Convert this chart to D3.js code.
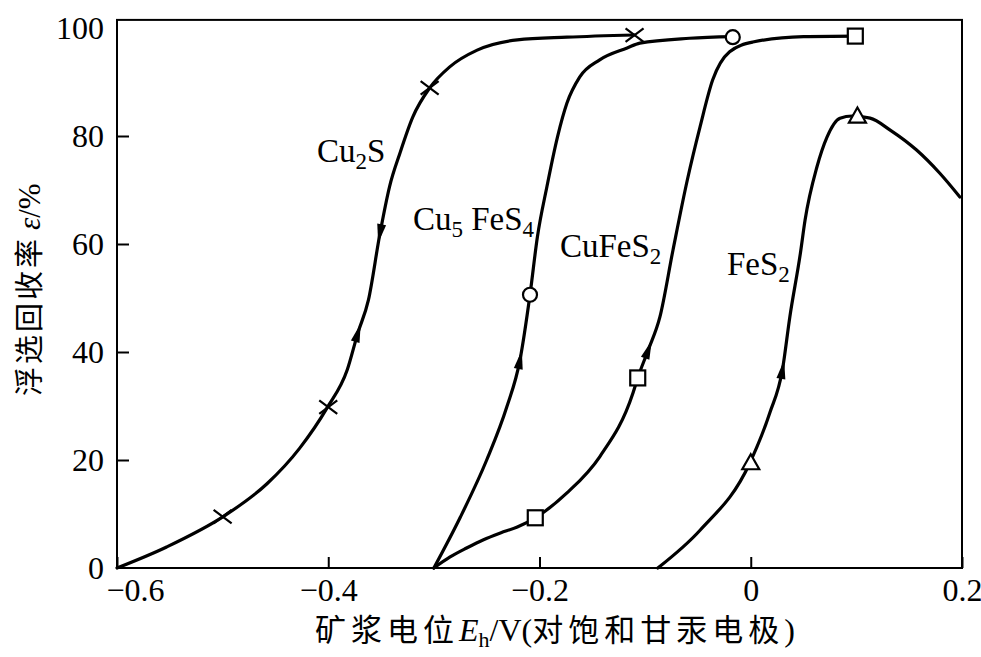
<!DOCTYPE html>
<html><head><meta charset="utf-8">
<script src="https://cdn.jsdelivr.net/npm/d3@7"></script>
<style>body{margin:0;background:#fff}</style>
</head><body>
<svg id="c" width="981" height="657"></svg>
<script>
// ---- data ----
const xTicks = [-0.6, -0.4, -0.2, 0, 0.2];
const xTickLabels = ["−0.6", "−0.4", "−0.2", "0", "0.2"];
const yTicks = [0, 20, 40, 60, 80, 100];
const yTickLabels = ["0", "20", "40", "60", "80", "100"];

const cu2sCurve = [[-0.6,0],[-0.553,3.9],[-0.498,9.7],[-0.458,15.6],[-0.427,22.2],[-0.401,29.7],[-0.382,36.7],[-0.372,43.5],[-0.362,49.6],[-0.351,62.0],[-0.342,70.6],[-0.332,76.9],[-0.320,83.5],[-0.304,88.9],[-0.285,92.8],[-0.259,95.9],[-0.221,97.8],[-0.174,98.3],[-0.110,98.7]];
const cu5fes4Curve = [[-0.3,0],[-0.275,9.4],[-0.250,20.0],[-0.231,29.8],[-0.2185,38.5],[-0.209,50.6],[-0.202,61.3],[-0.193,70.6],[-0.183,79.8],[-0.174,86.1],[-0.162,90.9],[-0.143,94.1],[-0.117,96.3],[-0.105,97.2],[-0.058,98.1],[-0.017,98.4]];
const cufes2Curve = [[-0.3,0],[-0.285,2.0],[-0.269,3.7],[-0.2535,5.2],[-0.237,6.5],[-0.221,7.6],[-0.204,9.3],[-0.174,13.9],[-0.143,20.6],[-0.1115,32.4],[-0.107,35.2],[-0.097,40.4],[-0.086,46.5],[-0.0736,58.9],[-0.060,71.9],[-0.048,81.7],[-0.036,90.4],[-0.020,95.6],[0.002,97.4],[0.050,98.4],[0.099,98.5]];
const fes2Curve = [[-0.088,0],[-0.048,7.0],[-0.001,19.4],[0.018,28.7],[0.030,36.7],[0.037,46.5],[0.047,58.3],[0.0514,64.4],[0.0627,74.3],[0.0722,79.8],[0.0845,83.3],[0.096,83.7],[0.113,83.3],[0.132,81.1],[0.157,77.4],[0.179,73.1],[0.198,68.7]];

const cu2sMarks = [[-0.5,9.5],[-0.4,29.8],[-0.304,88.9],[-0.11,98.7]];
const cu5fes4Marks = [[-0.209,50.6],[-0.017,98.3]];
const cufes2Marks = [[-0.204,9.3],[-0.107,35.2],[0.099,98.5]];
const fes2Marks = [[0.0,19.4],[0.101,83.6]];

// arrows: [series index, x value, direction (1 = with rising curve, -1 = against)]
const arrows = [[0,-0.372,1],[0,-0.351,-1],[1,-0.2185,1],[2,-0.097,1],[3,0.030,1]];

const curveLabels = [
  {parts:[["Cu",0],["2",1],["S",0]], x:-0.4107, y:75.2},
  {parts:[["Cu",0],["5",1],[" FeS",0],["4",1]], x:-0.3198, y:62.6},
  {parts:[["CuFeS",0],["2",1]], x:-0.1806, y:57.6},
  {parts:[["FeS",0],["2",1]], x:-0.0225, y:54.3}
];

// ---- layout ----
const svg = d3.select("#c");
const x = d3.scaleLinear().domain([-0.6, 0.2]).range([117, 962]);
const y = d3.scaleLinear().domain([0, 100]).range([568, 28]);
const yTop = 101.5;
const serif = "'Liberation Serif','Times New Roman',serif";
const cjk = "'Noto Sans CJK SC','Noto Sans CJK JP',sans-serif";

// frame
svg.append("rect")
  .attr("x", x(-0.6)).attr("y", y(yTop))
  .attr("width", x(0.2) - x(-0.6)).attr("height", y(0) - y(yTop))
  .attr("fill", "none").attr("stroke", "#000").attr("stroke-width", 2);

// axes
const gx = svg.append("g").attr("transform", `translate(0,${y(0)})`)
  .call(d3.axisBottom(x).tickValues(xTicks).tickSizeInner(-11).tickSizeOuter(0)
    .tickFormat((d, i) => xTickLabels[i]));
gx.select(".domain").remove();
gx.selectAll(".tick line").attr("stroke", "#000").attr("stroke-width", 2);
gx.selectAll(".tick text")
  .attr("font-family", serif).attr("font-size", 32).attr("fill", "#000")
  .attr("y", 33).attr("dy", 0)
  .attr("dx", (d, i) => i === 0 ? 18 : 0);

const gy = svg.append("g").attr("transform", `translate(${x(-0.6)},0)`)
  .call(d3.axisLeft(y).tickValues(yTicks).tickSizeInner(-12).tickSizeOuter(0)
    .tickFormat((d, i) => yTickLabels[i]));
gy.select(".domain").remove();
gy.selectAll(".tick line").attr("stroke", "#000").attr("stroke-width", 2)
  .attr("display", d => (d === 100 || d === 0) ? "none" : null);
gy.selectAll(".tick text")
  .attr("font-family", serif).attr("font-size", 32).attr("fill", "#000")
  .attr("x", -13).attr("dy", "0.34em");

// curves
const series = [cu2sCurve, cu5fes4Curve, cufes2Curve, fes2Curve];
const line = d3.line().x(d => x(d[0])).y(d => y(d[1])).curve(d3.curveMonotoneX);
const paths = series.map(s => svg.append("path").attr("d", line(s))
  .attr("fill", "none").attr("stroke", "#000").attr("stroke-width", 3.2)
  .attr("stroke-linejoin", "round").attr("stroke-linecap", "round").node());

// arrows
function lengthAtX(node, px) {
  let lo = 0, hi = node.getTotalLength();
  for (let k = 0; k < 40; k++) {
    const mid = (lo + hi) / 2;
    if (node.getPointAtLength(mid).x < px) lo = mid; else hi = mid;
  }
  return (lo + hi) / 2;
}
arrows.forEach(([si, xv, dir]) => {
  const node = paths[si];
  const l = lengthAtX(node, x(xv));
  const p = node.getPointAtLength(l);
  const a = node.getPointAtLength(Math.max(0, l - 2));
  const b = node.getPointAtLength(l + 2);
  let ang = Math.atan2(b.y - a.y, b.x - a.x) * 180 / Math.PI;
  if (dir < 0) ang += 180;
  svg.append("path").attr("d", "M10,0 L-9,-4.5 L-9,4.5 Z")
    .attr("transform", `translate(${p.x},${p.y}) rotate(${ang})`)
    .attr("fill", "#000");
});

// markers
const mk = svg.append("g").attr("stroke", "#000").attr("stroke-width", 2.2);
cu2sMarks.forEach(d => {
  const cx = x(d[0]), cy = y(d[1]), r = 9;
  mk.append("path").attr("d", `M${cx-r},${cy-r*0.75}L${cx+r},${cy+r*0.75}M${cx-r},${cy+r*0.75}L${cx+r},${cy-r*0.75}`)
    .attr("fill", "none");
});
cu5fes4Marks.forEach(d => {
  mk.append("circle").attr("cx", x(d[0])).attr("cy", y(d[1])).attr("r", 7).attr("fill", "#fff");
});
cufes2Marks.forEach(d => {
  mk.append("rect").attr("x", x(d[0]) - 7.5).attr("y", y(d[1]) - 7.5)
    .attr("width", 15).attr("height", 15).attr("fill", "#fff");
});
fes2Marks.forEach(d => {
  const cx = x(d[0]), cy = y(d[1]);
  mk.append("path").attr("d", `M${cx},${cy-9}L${cx+8.5},${cy+6}L${cx-8.5},${cy+6}Z`).attr("fill", "#fff");
});

// curve labels
curveLabels.forEach(lb => {
  const t = svg.append("text").attr("x", x(lb.x)).attr("y", y(lb.y))
    .attr("font-family", serif).attr("font-size", 33).attr("fill", "#000");
  let shifted = false;
  lb.parts.forEach(([s, sub]) => {
    const ts = t.append("tspan").text(s);
    if (sub && !shifted) { ts.attr("dy", 7).attr("font-size", 23); shifted = true; }
    else if (!sub && shifted) { ts.attr("dy", -7); shifted = false; }
  });
});

// x axis title
const xt = svg.append("text").attr("x", 315).attr("y", 641).attr("fill", "#000").attr("font-size", 31);
xt.append("tspan").attr("font-family", cjk).attr("letter-spacing", 5).text("矿浆电位");
xt.append("tspan").attr("font-family", serif).attr("font-style", "italic").attr("font-size", 32).text("E");
xt.append("tspan").attr("font-family", serif).attr("font-size", 22).attr("dy", 6).text("h");
xt.append("tspan").attr("font-family", serif).attr("font-size", 32).attr("dy", -6).text("/V(");
xt.append("tspan").attr("font-family", cjk).attr("letter-spacing", 5).text("对饱和甘汞电极");
xt.append("tspan").attr("font-family", serif).attr("font-size", 32).text(")");

// y axis title
const yt = svg.append("text").attr("transform", "translate(40,396) rotate(-90)")
  .attr("fill", "#000").attr("font-size", 29);
yt.append("tspan").attr("font-family", cjk).attr("letter-spacing", 3).text("浮选回收率");
yt.append("tspan").attr("font-family", serif).attr("font-style", "italic").attr("font-size", 31).attr("dx", 6).text("ε");
yt.append("tspan").attr("font-family", serif).attr("font-size", 31).text("/%");
</script>
</body></html>
